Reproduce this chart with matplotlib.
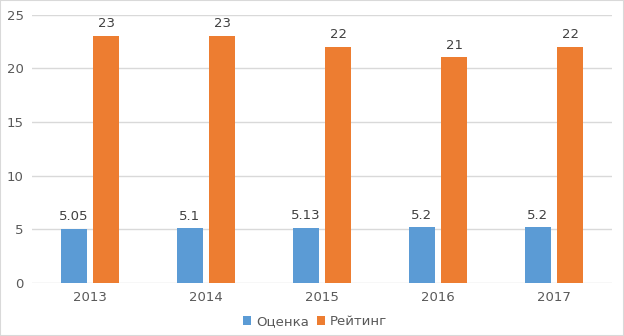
import numpy as np
import matplotlib.pyplot as plt
from matplotlib.patches import Rectangle

years = ['2013', '2014', '2015', '2016', '2017']
ocenka = [5.05, 5.1, 5.13, 5.2, 5.2]
rating = [23, 23, 22, 21, 22]
ocenka_labels = ['5.05', '5.1', '5.13', '5.2', '5.2']
rating_labels = ['23', '23', '22', '21', '22']

blue = '#5B9BD5'
orange = '#ED7D31'
grid_c = '#D9D9D9'
txt_c = '#595959'

fig = plt.figure(figsize=(6.24, 3.36), dpi=100)
ax = fig.add_axes([0.0513, 0.1577, 0.9295, 0.7991])

x = np.arange(len(years))
w = 0.224
off = 0.142
b1 = ax.bar(x - off, ocenka, w, color=blue, label='Оценка', zorder=3)
b2 = ax.bar(x + off, rating, w, color=orange, label='Рейтинг', zorder=3)

# подписи значений над столбцами
for rect, lab in zip(b1, ocenka_labels):
    ax.annotate(lab, (rect.get_x() + rect.get_width() / 2, rect.get_height()),
                xytext=(0, 4), textcoords='offset points', ha='center', va='bottom',
                fontsize=9.5, color='#404040')
for rect, lab in zip(b2, rating_labels):
    ax.annotate(lab, (rect.get_x() + rect.get_width() / 2, rect.get_height()),
                xytext=(0, 4), textcoords='offset points', ha='center', va='bottom',
                fontsize=9.5, color='#404040')

ax.set_xlim(-0.5, 4.5)
ax.set_ylim(0, 25)
ax.set_yticks([0, 5, 10, 15, 20, 25])
ax.set_xticks(x)
ax.set_xticklabels(years)
ax.tick_params(length=0, labelsize=9.5, labelcolor=txt_c, pad=6)
ax.grid(axis='y', color=grid_c, linewidth=1, zorder=0)
for s in ax.spines.values():
    s.set_visible(False)

fig.legend(loc='lower center', bbox_to_anchor=(0.505, -0.012), ncol=2, frameon=False,
           fontsize=9.5, labelcolor=txt_c, handlelength=0.6, handleheight=0.6,
           handletextpad=0.4, columnspacing=0.6)

fig.patches.append(Rectangle((0, 0), 1, 1, transform=fig.transFigure, fill=False,
                             edgecolor=grid_c, linewidth=1.5))

fig.savefig('out.png', dpi=100)
